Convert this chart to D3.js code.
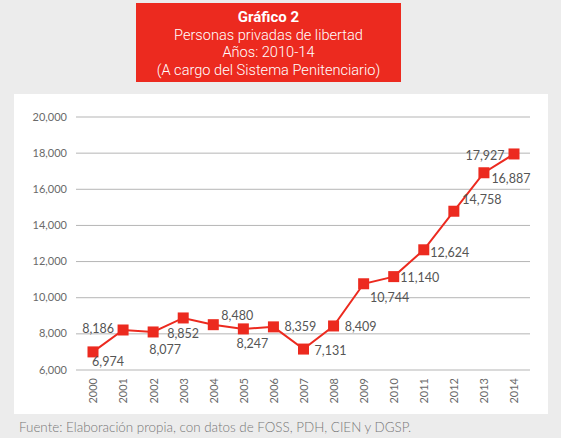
<!DOCTYPE html>
<html>
<head>
<meta charset="utf-8">
<script src="https://cdn.jsdelivr.net/npm/d3@7"></script>
<style>
  html, body { margin: 0; padding: 0; background: #ececec; }
  svg { display: block; }
  text { font-family: Lato, "Open Sans", sans-serif; }
</style>
</head>
<body>
<svg id="chart" width="561" height="438"></svg>
<script>
// ---- data ----
const years = ["2000","2001","2002","2003","2004","2005","2006","2007","2008","2009","2010","2011","2012","2013","2014"];
const values = [6974, 8186, 8077, 8852, 8480, 8247, 8359, 7131, 8409, 10744, 11140, 12624, 14758, 16887, 17927];
const yTicks = [6000, 8000, 10000, 12000, 14000, 16000, 18000, 20000];
const titleLines = ["Gráfico 2", "Personas privadas de libertad", "Años: 2010-14", "(A cargo del Sistema Penitenciario)"];
const sourceText = "Fuente: Elaboración propia, con datos de FOSS, PDH, CIEN y DGSP.";
// label offsets (layout only)
const labelDx = [15, -25, 12, 0, 24, 9, 27, 27, 27, 26, 26, 26, 28, 27, -29];
const labelDy = [10, -1, 18, 16, -9, 15, 0, 1, 1, 14, 1, 3, -12, 6, 2];

const svg = d3.select("#chart");
const red = "#ec2a1f";

// background panel
svg.append("rect").attr("x", 0).attr("y", 0).attr("width", 561).attr("height", 438).attr("fill", "#ececec");
svg.append("rect").attr("x", 14).attr("y", 94).attr("width", 534).attr("height", 320).attr("fill", "#ffffff");

// title box
svg.append("rect").attr("x", 136).attr("y", 3).attr("width", 265).attr("height", 79).attr("fill", red);
const ty = [17, 35, 52, 70];
titleLines.forEach((t, i) => {
  svg.append("text")
    .attr("x", 268.5).attr("y", ty[i])
    .attr("text-anchor", "middle").attr("dominant-baseline", "central")
    .attr("fill", "#ffffff")
    .style("font-size", i === 0 ? "15px" : "14.6px")
    .style("font-weight", i === 0 ? "700" : "300")
    .style("font-family", "Roboto, Lato, sans-serif")
    .text(t);
});

// scales
const x = d3.scalePoint().domain(years).range([93, 514]);
const y = d3.scaleLinear().domain([6000, 20000]).range([369.5, 116.5]);
const gridX0 = 76, gridX1 = 530;

// gridlines + y axis
const yAxis = d3.axisLeft(y).tickValues(yTicks).tickSize(gridX1 - gridX0).tickPadding(9)
  .tickFormat(d3.format(",d"));
const gy = svg.append("g").attr("transform", `translate(${gridX1},0)`).call(yAxis);
gy.select(".domain").remove();
gy.selectAll(".tick line").attr("stroke", "#b5b5b5").attr("stroke-width", 1);
gy.selectAll(".tick text").attr("fill", "#6a6a6a").style("font-size", "11px").style("font-family", "Lato, sans-serif");

// x axis labels
const xAxis = d3.axisBottom(x).tickSize(0).tickPadding(0);
const gx = svg.append("g").attr("transform", `translate(0,378)`).call(xAxis);
gx.select(".domain").remove();
gx.selectAll(".tick text")
  .attr("transform", "rotate(-90)")
  .attr("x", 0).attr("y", 0).attr("dy", "0.35em")
  .attr("text-anchor", "end")
  .attr("fill", "#6a6a6a")
  .style("font-size", "11px")
  .style("font-family", "Lato, sans-serif");

// line
const data = years.map((yr, i) => ({ yr, v: values[i], i }));
svg.append("path")
  .datum(data)
  .attr("fill", "none").attr("stroke", red).attr("stroke-width", 2)
  .attr("d", d3.line().x(d => x(d.yr)).y(d => y(d.v)));

// markers
const ms = 11;
svg.selectAll("rect.mk").data(data).enter().append("rect")
  .attr("class", "mk")
  .attr("x", d => x(d.yr) - ms / 2).attr("y", d => y(d.v) - ms / 2)
  .attr("width", ms).attr("height", ms).attr("fill", red);

// value labels
svg.selectAll("text.lbl").data(data).enter().append("text")
  .attr("class", "lbl")
  .attr("x", d => x(d.yr) + labelDx[d.i])
  .attr("y", d => y(d.v) + labelDy[d.i])
  .attr("text-anchor", "middle").attr("dominant-baseline", "central")
  .attr("fill", "#555")
  .style("font-size", "12.5px")
  .text(d => d3.format(",d")(d.v));

// source
svg.append("text")
  .attr("x", 19).attr("y", 427)
  .attr("dominant-baseline", "central")
  .attr("fill", "#777")
  .style("font-size", "13.4px")
  .style("font-weight", "300")
  .text(sourceText);
</script>
</body>
</html>
